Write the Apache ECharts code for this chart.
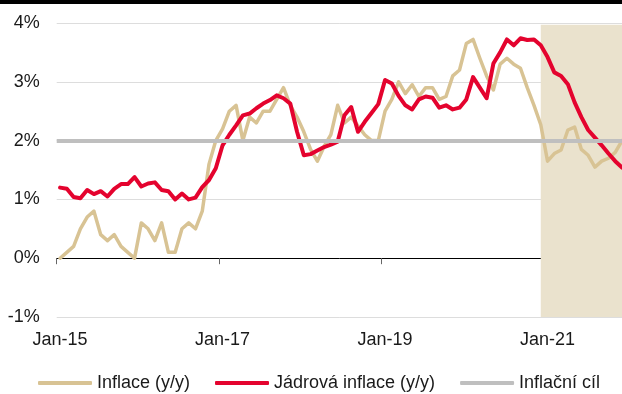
<!DOCTYPE html>
<html>
<head>
<meta charset="utf-8">
<script src="https://cdn.jsdelivr.net/npm/echarts@6/dist/echarts.min.js"></script>
<style>
  html, body { margin: 0; padding: 0; background: #fff; }
  #chart { width: 622px; height: 394px; }
</style>
</head>
<body>
<div id="chart"></div>
<script>
// Monthly categories Jan-15 ... Dec-21
const monthNames = ['Jan','Feb','Mar','Apr','May','Jun','Jul','Aug','Sep','Oct','Nov','Dec'];
const yearLabels = ['15','16','17','18','19','20','21'];
const categories = [];
yearLabels.forEach(y => monthNames.forEach(m => categories.push(m + '-' + y)));

// Headline inflation, y/y in %
const inflation = [
  0.0, 0.1, 0.2, 0.5, 0.7, 0.8, 0.4, 0.3, 0.4, 0.2, 0.1, 0.0,
  0.6, 0.5, 0.3, 0.6, 0.1, 0.1, 0.5, 0.6, 0.5, 0.8, 1.6, 2.0,
  2.2, 2.5, 2.6, 2.0, 2.4, 2.3, 2.5, 2.5, 2.7, 2.9, 2.6, 2.4,
  2.15, 1.85, 1.65, 1.9, 2.1, 2.6, 2.3, 2.4, 2.25, 2.1, 2.0, 2.0,
  2.5, 2.7, 3.0, 2.8, 2.95, 2.75, 2.9, 2.9, 2.7, 2.75, 3.1, 3.2,
  3.65, 3.72, 3.4, 3.1, 2.86, 3.3, 3.4, 3.3, 3.23, 2.9, 2.6, 2.27,
  1.65, 1.78, 1.84, 2.18, 2.23, 1.85, 1.75, 1.55, 1.65, 1.7, 1.8, 2.0
];

// Core inflation, y/y in %
const coreInflation = [
  1.2, 1.18, 1.04, 1.02, 1.16, 1.09, 1.14, 1.05, 1.18, 1.26, 1.26, 1.38,
  1.22, 1.27, 1.29, 1.16, 1.14, 1.0, 1.1, 1.0, 1.03, 1.21, 1.33, 1.53,
  1.92, 2.1, 2.26, 2.43, 2.46, 2.55, 2.63, 2.69, 2.77, 2.72, 2.63, 2.15,
  1.75, 1.77, 1.83, 1.89, 1.93, 1.98, 2.43, 2.57, 2.15, 2.32, 2.47, 2.62,
  3.03, 2.97, 2.76, 2.6, 2.53, 2.7, 2.75, 2.73, 2.56, 2.6, 2.53, 2.56,
  2.7, 3.08, 2.9, 2.72, 3.31, 3.5, 3.72, 3.62, 3.74, 3.71, 3.72, 3.62,
  3.42, 3.16, 3.1, 2.96, 2.65, 2.4, 2.18, 2.05, 1.92, 1.78, 1.65, 1.54
];

// Inflation target
const inflationTarget = 2;

// Forecast period (shaded)
const forecastStart = 'Dec-20';
const forecastEnd = 'Dec-21';

// Y axis range and step, in %
const yMin = -1, yMax = 4, yStep = 1;

const FONT = '"Liberation Sans", Arial, sans-serif';
const TEXT = '#1a1a1a';

const chart = echarts.init(document.getElementById('chart'), null, { renderer: 'canvas' });

chart.setOption({
  animation: false,
  backgroundColor: '#ffffff',
  textStyle: { fontFamily: FONT },
  graphic: [{
    type: 'rect',
    left: 0, top: 0,
    shape: { width: 622, height: 4 },
    style: { fill: '#000000' },
    silent: true
  }],
  grid: {
    left: 56.7, right: -3.4, top: 23, bottom: 77,
    containLabel: false,
    outerBoundsMode: 'none'
  },
  legend: {
    data: ['Inflace (y/y)', 'Jádrová inflace (y/y)', 'Inflační cíl'],
    left: 38, top: 374,
    padding: 0,
    icon: 'roundRect',
    itemWidth: 54, itemHeight: 4, itemGap: 25,
    textStyle: { fontSize: 18, color: TEXT, fontFamily: FONT },
    selectedMode: false
  },
  xAxis: {
    type: 'category',
    data: categories,
    boundaryGap: true,
    axisLine: { onZero: true, lineStyle: { color: '#000000', width: 1 } },
    axisTick: { show: true, interval: 23, length: 6, lineStyle: { color: '#666666' } },
    axisLabel: { interval: 23, margin: 14, fontSize: 18, color: TEXT, fontFamily: FONT },
    splitLine: { show: false }
  },
  yAxis: {
    type: 'value',
    min: yMin, max: yMax, interval: yStep,
    axisLine: { show: false },
    axisTick: { show: false },
    axisLabel: { formatter: '{value}%', fontSize: 18, color: TEXT, fontFamily: FONT, margin: 17 },
    splitLine: { show: true, lineStyle: { color: '#dddddd', width: 1 } }
  },
  series: [
    {
      name: 'Prognóza',
      type: 'line',
      data: [],
      z: 1,
      markArea: {
        silent: true,
        itemStyle: { color: '#eae2cd' },
        data: [[{ xAxis: forecastStart, yAxis: 3.97 }, { xAxis: forecastEnd, yAxis: yMin }]]
      }
    },
    {
      name: 'Inflační cíl',
      type: 'line',
      data: [],
      z: 2,
      symbol: 'none',
      itemStyle: { color: '#bfbfbf' },
      lineStyle: { color: '#bfbfbf', width: 4 },
      markLine: {
        silent: true,
        symbol: ['none', 'none'],
        label: { show: false },
        lineStyle: { color: '#bfbfbf', width: 4, type: 'solid' },
        data: [{ yAxis: inflationTarget }]
      }
    },
    {
      name: 'Inflace (y/y)',
      type: 'line',
      data: inflation,
      z: 3,
      symbol: 'none',
      itemStyle: { color: '#d8c394' },
      lineStyle: { color: '#d8c394', width: 3.5, join: 'round', cap: 'round' }
    },
    {
      name: 'Jádrová inflace (y/y)',
      type: 'line',
      data: coreInflation,
      z: 4,
      symbol: 'none',
      itemStyle: { color: '#e4032e' },
      lineStyle: { color: '#e4032e', width: 4, join: 'round', cap: 'round' }
    }
  ]
});
</script>
</body>
</html>
